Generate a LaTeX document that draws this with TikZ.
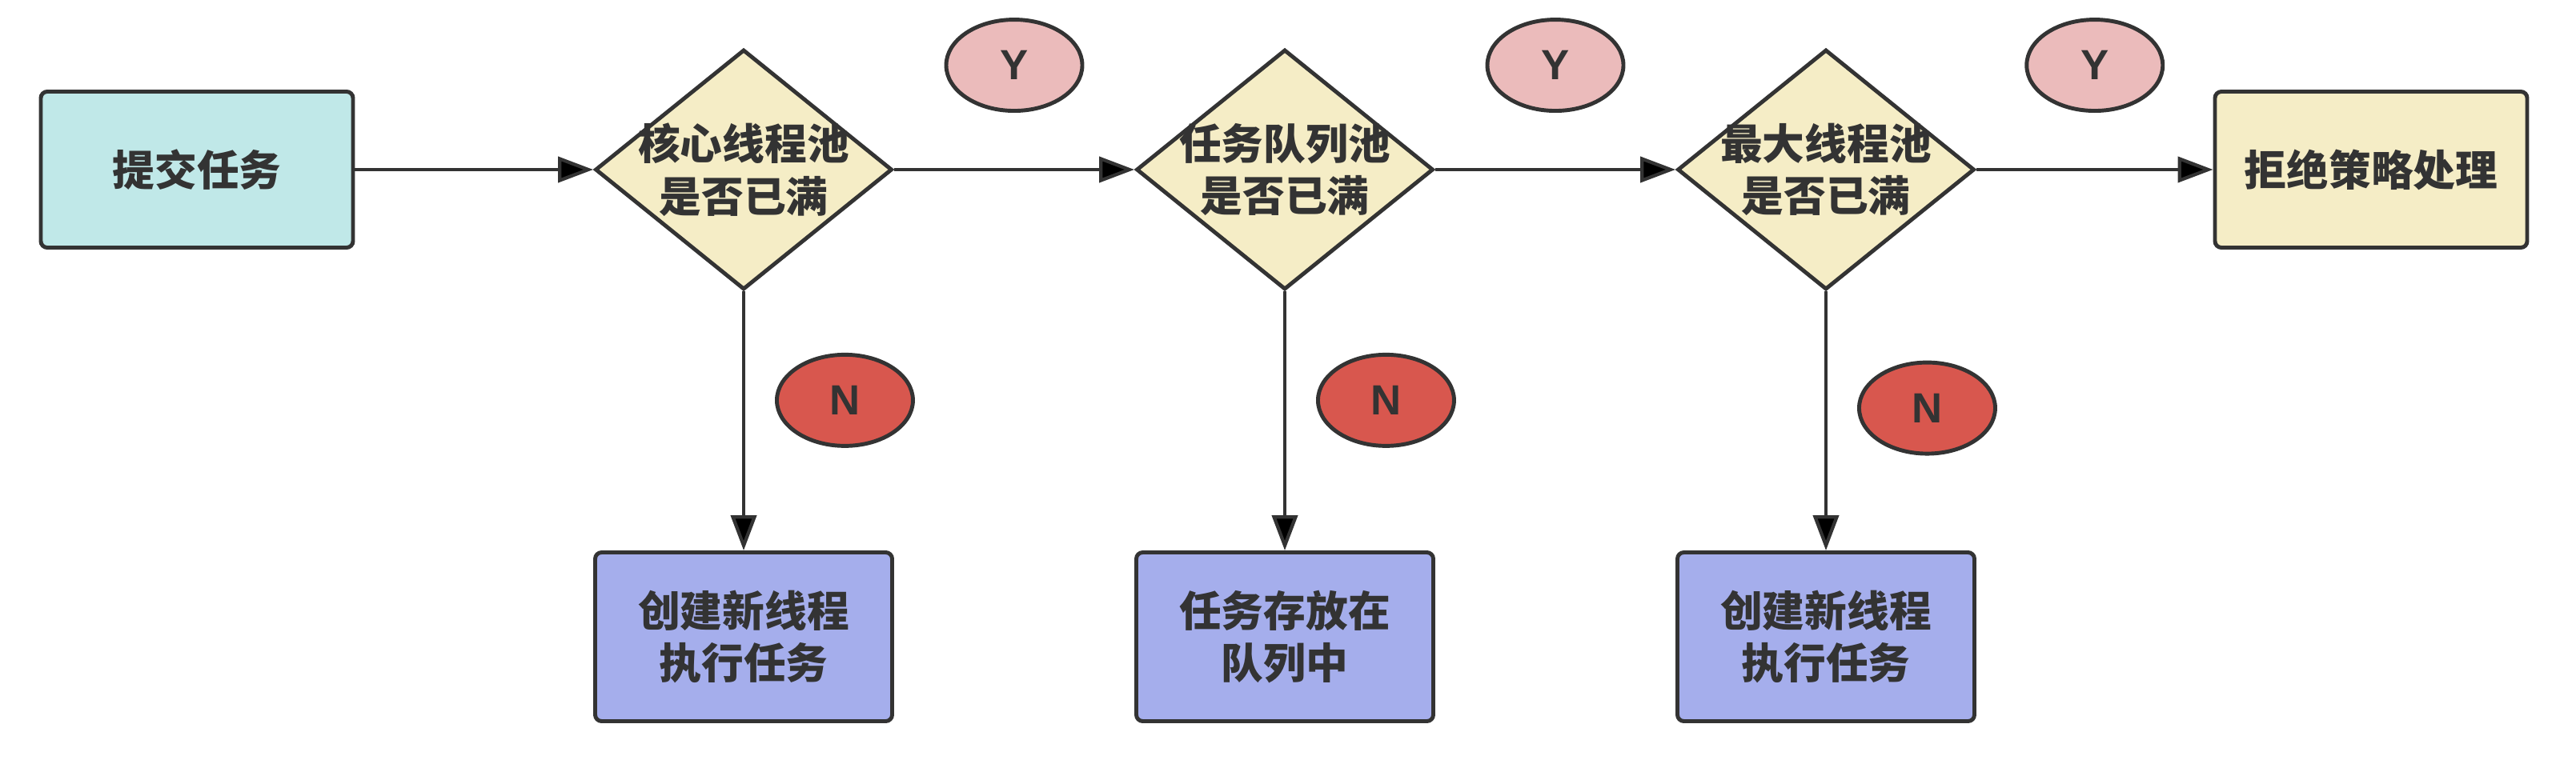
\documentclass[tikz,border=0pt]{standalone}
\usepackage{fontspec}
\newfontfamily\cjk{Noto Sans CJK SC}
\setsansfont{Liberation Sans}
\usetikzlibrary{shapes.geometric, positioning, arrows.meta}

\definecolor{lineclr}{HTML}{333333}
\definecolor{startclr}{HTML}{C0E8E8}
\definecolor{askclr}{HTML}{F5EDC6}
\definecolor{doclr}{HTML}{A5AEEC}
\definecolor{yesclr}{HTML}{EBBBBB}
\definecolor{noclr}{HTML}{D8574E}

\begin{document}
\begin{tikzpicture}[node distance=6.76cm, on grid,
    txt/.style={font=\cjk\bfseries\fontsize{15}{18.7}\selectfont, text=lineclr, align=center},
    block/.style={txt, rectangle, draw=lineclr, line width=1.4pt, rounded corners=0.08cm,
        minimum width=3.9cm, minimum height=1.95cm},
    doit/.style={block, fill=doclr, minimum width=3.71cm, minimum height=2.11cm},
    decision/.style={diamond, draw=lineclr, fill=askclr, line width=1.4pt,
        minimum width=3.71cm, minimum height=3.0cm, inner sep=0pt},
    yesno/.style={ellipse, draw=lineclr, line width=1.4pt, minimum width=1.7cm, minimum height=1.14cm,
        inner sep=0pt, text=lineclr, font=\sffamily\bfseries\fontsize{15}{18}\selectfont},
    yes/.style={yesno, fill=yesclr},
    no/.style={yesno, fill=noclr},
    flow/.style={-{Triangle[length=0.44cm, width=0.32cm]}, draw=lineclr, line width=1.2pt}]
    \useasboundingbox (0,0) rectangle (32.18,-9.70);

    \node[block, fill=startclr] (start) at (2.46,-2.12) {提交任务};
    \node[decision, label={[txt]center:核心线程池\\是否已满}] (d1) [right=6.83cm of start] {};
    \node[decision, label={[txt]center:任务队列池\\是否已满}] (d2) [right=of d1] {};
    \node[decision, label={[txt]center:最大线程池\\是否已满}] (d3) [right=of d2] {};
    \node[block, fill=askclr] (reject) [right=6.81cm of d3] {拒绝策略处理};
    \node[doit] (b1) [below=5.84cm of d1] {创建新线程\\执行任务};
    \node[doit] (b2) [below=5.84cm of d2] {任务存放在\\队列中};
    \node[doit] (b3) [below=5.84cm of d3] {创建新线程\\执行任务};

    \path[flow]
    (start) edge (d1)
    (d1) edge node[yes, above=0.71cm] (y1) {Y} (d2)
        (d1) edge node[no, pos=0.42, right=0.39cm] (n1) {N} (b1)
    (d2) edge node[yes, above=0.71cm] (y2) {Y} (d3)
        (d2) edge node[no, pos=0.42, right=0.39cm] (n2) {N} (b2)
    (d3) edge node[yes, above=0.71cm] (y3) {Y} (reject)
        (d3) edge node[no, pos=0.45, right=0.39cm] (n3) {N} (b3);
\end{tikzpicture}
\end{document}
